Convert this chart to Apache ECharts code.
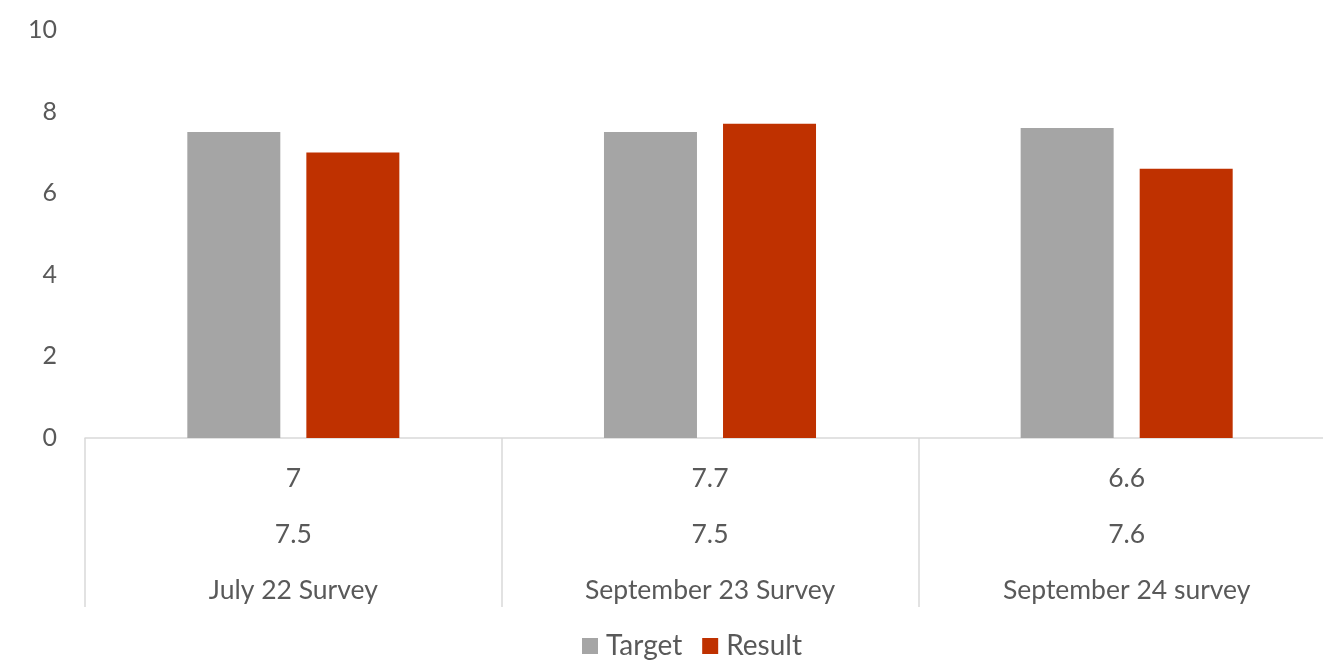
<!DOCTYPE html>
<html>
<head>
<meta charset="utf-8">
<script src="https://cdn.jsdelivr.net/npm/echarts@6/dist/echarts.min.js"></script>
<style>
html,body{margin:0;padding:0;background:#fff;overflow:hidden;}
#chart{width:1335px;height:672px;}
</style>
</head>
<body>
<div id="chart"></div>
<script>
const categories = ['July 22 Survey', 'September 23 Survey', 'September 24 survey'];
const targetValues = [7.5, 7.5, 7.6];
const resultValues = [7, 7.7, 6.6];
const seriesNames = ['Target', 'Result'];

const FONT = 'Lato, "Liberation Sans", sans-serif';
const TXT = '#595959';

const chart = echarts.init(document.getElementById('chart'));
chart.setOption({
  animation: false,
  textStyle: { fontFamily: FONT },
  grid: { left: 85, right: 0, top: 30, bottom: 234, containLabel: false },
  legend: {
    bottom: 12,
    left: 582,
    padding: 0,
    itemWidth: 16,
    itemHeight: 16,
    itemGap: 20,
    icon: 'rect',
    textStyle: { fontFamily: FONT, fontSize: 28, color: TXT, padding: [0, 0, 0, 3] },
    data: seriesNames
  },
  xAxis: {
    type: 'category',
    data: categories,
    axisLine: { show: true, lineStyle: { color: '#D9D9D9', width: 1.5 } },
    axisTick: { show: true, length: 169, lineStyle: { color: '#D9D9D9', width: 1.5 } },
    axisLabel: {
      margin: 12,
      interval: 0,
      formatter: function (v, i) {
        return '{a|' + resultValues[i] + '}\n{a|' + targetValues[i] + '}\n{a|' + v + '}';
      },
      rich: {
        a: { fontFamily: FONT, fontSize: 26.5, color: TXT, lineHeight: 56, align: 'center' }
      }
    }
  },
  yAxis: {
    type: 'value',
    min: 0,
    max: 10,
    interval: 2,
    splitLine: { show: false },
    axisLine: { show: false },
    axisTick: { show: false },
    axisLabel: { margin: 28, fontFamily: FONT, fontSize: 25, color: TXT }
  },
  series: [
    {
      name: seriesNames[0],
      type: 'bar',
      data: targetValues,
      barWidth: 93,
      barGap: '28%',
      itemStyle: { color: '#A5A5A5' }
    },
    {
      name: seriesNames[1],
      type: 'bar',
      data: resultValues,
      barWidth: 93,
      itemStyle: { color: '#BF3100' }
    }
  ]
});
</script>
</body>
</html>
